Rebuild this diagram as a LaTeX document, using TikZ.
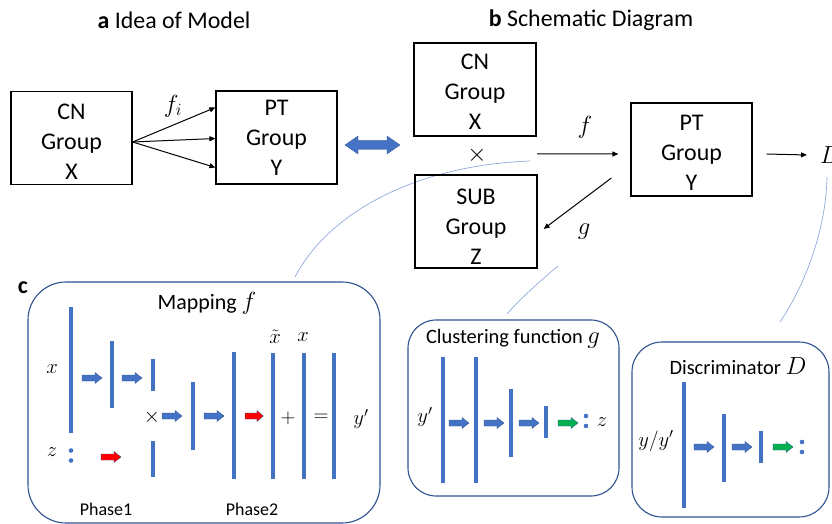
\documentclass[tikz,border=0pt]{standalone}
\usepackage{fontspec}
\setmainfont{Carlito}
\usetikzlibrary{arrows.meta}
\definecolor{cblue}{HTML}{4472C4}
\definecolor{cdark}{HTML}{2F528F}
\definecolor{clight}{HTML}{8FAADC}
\definecolor{cred}{HTML}{FF0000}
\definecolor{cgreen}{HTML}{00B050}
\newcommand\lyr[3]{\fill[lay] (#1-2,#2) rectangle (#1+2,#3);}
\begin{document}
\begin{tikzpicture}[x=1bp,y=-1bp,
 gbox/.style={draw=black,line width=1.2bp,minimum width=121bp,minimum height=93bp,inner sep=0},
 btxt/.style={font=\fontsize{24}{30}\selectfont,align=center,inner sep=0},
 ttl/.style={font=\fontsize{24}{29}\selectfont,inner sep=0},
 mlbl/.style={font=\fontsize{24}{29}\selectfont,inner sep=0},
 slbl/.style={font=\fontsize{21}{25}\selectfont,inner sep=0},
 ptl/.style={font=\fontsize{20.5}{25}\selectfont,inner sep=0},
 phl/.style={font=\fontsize{18}{22}\selectfont,inner sep=0},
 conn/.style={line width=1bp,-{Triangle[length=6bp,width=5bp]}},
 panel/.style={draw=cdark,line width=1.1bp},
 lay/.style={fill=cblue},
 curve/.style={draw=clight,line width=0.7bp},
 dotc/.style={fill=cblue},
 barrow/.pic={\path[pic actions] (0,-3)--(13,-3)--(13,-5.5)--(20,0)--(13,5.5)--(13,3)--(0,3)--cycle;},
 bluea/.style={fill=cblue,draw=cdark,line width=0.3bp},
 reda/.style={fill=cred,draw=cdark,line width=0.3bp},
 greena/.style={fill=cgreen,draw=cdark,line width=0.3bp}]
\useasboundingbox (0,0) rectangle (832,524);

% light connecting curves
\draw[curve] (530,161) .. controls (420,165) and (330,210) .. (295,277);
\draw[curve] (558,266) .. controls (540,281) and (520,299) .. (507,314);
\draw[curve] (827,177) .. controls (826,230) and (805,285) .. (780,322);

% ---- a ----
\node[ttl] (ta) at (174,20) {\textbf{a} Idea of Model};
\node[gbox] (cn) at (71.5,138) {};
\node[btxt,yshift=-4bp] (cnt) at (cn.center) {CN\\Group\\X};
\node[gbox] (pt) at (276.5,137.5) {};
\node[btxt] (ptt) at (pt.center) {PT\\Group\\Y};
\draw[conn] ([yshift=-4bp]cn.east) -- ([yshift=30bp]pt.west);
\draw[conn] ([yshift=-4bp]cn.east) -- ([yshift=-1bp]pt.west);
\draw[conn] ([yshift=-4bp]cn.east) -- ([yshift=-30bp]pt.west);
\node[mlbl] (fi) at (173,106) {$f_i$};

% double arrow
\draw[fill=cblue,draw=cdark,line width=0.3bp] (345,145) -- (358,136) -- (358,140.5) -- (387,140.5) -- (387,136) -- (400,145) -- (387,154) -- (387,149.5) -- (358,149.5) -- (358,154) -- cycle;

% ---- b ----
\node[ttl] (tb) at (591,20) {\textbf{b} Schematic Diagram};
\node[gbox,minimum width=122bp] (cn2) at (475,89.5) {};
\node[btxt,yshift=-2.5bp] (cn2t) at (cn2.center) {CN\\Group\\X};
\node[mlbl] (times) at (477,155) {$\times$};
\node[gbox,minimum width=122bp] (sub) at (476,221.5) {};
\node[btxt,yshift=-5.5bp] (subt) at (sub.center) {SUB\\Group\\Z};
\node[gbox] (pt2) at (691.5,149.5) {};
\node[btxt,yshift=-3.5bp] (pt2t) at (pt2.center) {PT\\Group\\Y};
\coordinate (fs) at (537,154);
\draw[conn] (fs) -- ([xshift=-12bp,yshift=-4.5bp]pt2.west);
\node[mlbl] (f) at (585,127) {$f$};
\node[mlbl,anchor=west] (D) at (820,155) {$D$};
\draw[conn] ([xshift=14bp,yshift=-4.5bp]pt2.east) -- ([xshift=-13bp]D.west);
\draw[conn] ([xshift=-19bp,yshift=-28.5bp]pt2.west) -- ([xshift=6bp,yshift=-7.5bp]sub.east);
\node[mlbl] (g) at (584,232) {$g$};

% ---- c ----
\node[ttl] (tc) at (23,288) {\textbf{c}};
\draw[panel,rounded corners=38bp] (28,282) rectangle (380,523);
\node[font=\fontsize{22}{26}\selectfont,inner sep=0] (tm) at (207,303) {Mapping \fontsize{25}{29}\selectfont$f$};
\lyr{71}{307}{433}
\lyr{112}{341}{408}
\lyr{153}{359}{391}
\lyr{153}{441}{477}
\lyr{193}{382}{450}
\lyr{234}{352}{479}
\lyr{273}{353}{479}
\lyr{304}{353}{479}
\lyr{334}{353}{479}
\node[slbl] (mx) at (52,369) {$x$};
\node[slbl] (mz) at (52,452) {$z$};
\fill[dotc] (71,450.5) circle (2.3);
\fill[dotc] (71,460.5) circle (2.3);
\pic[bluea] at (82,378) {barrow};
\pic[bluea] at (122,378) {barrow};
\node[slbl] (mt) at (152,417) {$\times$};
\pic[bluea] at (162,416) {barrow};
\pic[bluea] at (204,416) {barrow};
\pic[reda,xscale=0.92] at (245,416) {barrow};
\pic[reda] at (101,457) {barrow};
\node[slbl] (mp) at (288,418) {$+$};
\node[slbl] (me) at (321,418) {$=$};
\node[slbl] (my) at (361,419) {$y'$};
\node[slbl] (mxt) at (275,337) {$\tilde{x}$};
\node[slbl] (mx2) at (303,337) {$x$};
\node[phl] (ph1) at (106,509) {Phase1};
\node[phl] (ph2) at (252,509) {Phase2};

% clustering
\draw[panel,rounded corners=28bp] (408,320) rectangle (619,496);
\node[ptl] (tg) at (513,339) {Clustering function \fontsize{25}{29}\selectfont$g$};
\lyr{443}{357}{483}
\lyr{476}{357}{483}
\lyr{511}{389}{457}
\lyr{546}{406}{438}
\node[slbl] (gy) at (425,417) {$y'$};
\pic[bluea] at (449,423) {barrow};
\pic[bluea] at (484,423) {barrow};
\pic[bluea] at (519,423) {barrow};
\pic[greena] at (558,423) {barrow};
\fill[dotc] (586,416) circle (2.3);
\fill[dotc] (586,426) circle (2.3);
\node[slbl] (gz) at (602,422) {$z$};

% discriminator
\draw[panel,rounded corners=30bp] (632,342) rectangle (829,517);
\node[ptl] (td) at (738,366) {Discriminator \fontsize{25}{29}\selectfont$D$};
\lyr{684}{382}{508}
\lyr{724}{414}{482}
\lyr{761}{431}{463}
\node[slbl] (dy) at (656,441) {$y/y'$};
\pic[bluea] at (694,447) {barrow};
\pic[bluea] at (732,447) {barrow};
\pic[greena] at (773,447) {barrow};
\fill[dotc] (802,442) circle (2.3);
\fill[dotc] (802,452) circle (2.3);
\end{tikzpicture}
\end{document}
